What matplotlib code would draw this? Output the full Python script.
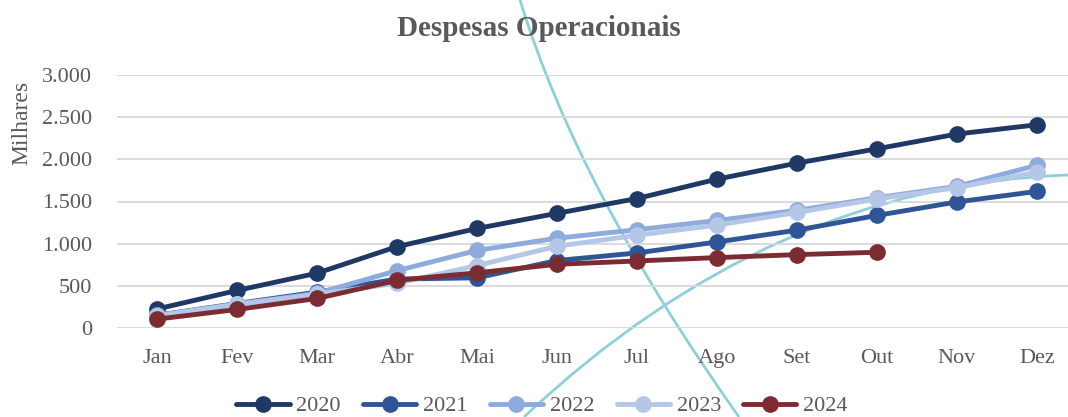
import matplotlib.pyplot as plt
from matplotlib.path import Path
from matplotlib.patches import PathPatch

# Dados (milhares)
meses = ['Jan', 'Fev', 'Mar', 'Abr', 'Mai', 'Jun', 'Jul', 'Ago', 'Set', 'Out', 'Nov', 'Dez']
d2020 = [225, 445, 650, 965, 1180, 1360, 1535, 1765, 1955, 2125, 2300, 2410]
d2021 = [150, 290, 425, 580, 595, 800, 890, 1020, 1160, 1335, 1495, 1620]
d2022 = [150, 285, 410, 680, 920, 1065, 1165, 1275, 1395, 1545, 1680, 1930]
d2023 = [145, 280, 400, 530, 740, 970, 1100, 1220, 1370, 1530, 1665, 1850]
d2024 = [105, 220, 350, 565, 655, 755, 795, 835, 870, 898]

series = {
    '2020': (d2020, '#203864'),
    '2021': (d2021, '#2f5597'),
    '2022': (d2022, '#8faadc'),
    '2023': (d2023, '#b4c7e7'),
    '2024': (d2024, '#7b2c32'),
}

plt.rcParams['font.family'] = ['Liberation Serif', 'DejaVu Serif']
cinza = '#595959'

fig = plt.figure(figsize=(10.68, 4.17), dpi=100)
W, H = 1068, 417

# curvas decorativas do fundo (bezier quadraticas, em pixels da imagem)
curvas = [
    [(520, 0), (578, 190), (739, 417)],
    [(524, 417), (770, 185), (1068, 175)],
]
for c in curvas:
    verts = [(px / W, 1 - py / H) for px, py in c]
    p = Path(verts, [Path.MOVETO, Path.CURVE3, Path.CURVE3])
    fig.add_artist(PathPatch(p, transform=fig.transFigure, fill=False,
                             edgecolor='#8fd0d6', lw=2, zorder=0))

ax = fig.add_axes([117 / W, 1 - 328 / H, 960 / W, (328 - 75) / H])
ax.patch.set_alpha(0)

x = list(range(len(meses)))
for nome, (vals, cor) in series.items():
    ax.plot(x[:len(vals)], vals, color=cor, lw=3.5, marker='o', ms=11,
            label=nome, solid_capstyle='round', zorder=3)

ax.set_xlim(-0.5, 11.5)
ax.set_ylim(0, 3000)
ax.set_yticks(range(0, 3001, 500))
ax.set_yticklabels([f'{v:,}'.replace(',', '.') for v in range(0, 3001, 500)])
ax.set_xticks(x)
ax.set_xticklabels(meses)
ax.grid(axis='y', color='#d9d9d9', lw=1.3)
ax.set_axisbelow(True)
for s in ax.spines.values():
    s.set_visible(False)
ax.tick_params(axis='both', length=0, colors=cinza, labelsize=16)
ax.tick_params(axis='y', pad=18)
ax.tick_params(axis='x', pad=15)

fig.text(22 / W, 1 - 123 / H, 'Milhares', rotation=90, color=cinza,
         fontsize=17, ha='center', va='center')
fig.text(539 / W, 1 - 29 / H, 'Despesas Operacionais', color=cinza, fontsize=21,
         fontweight='bold', ha='center', va='center')

leg = fig.legend(loc='center', bbox_to_anchor=(542 / W, 1 - 406 / H), ncol=5,
                 frameon=False, fontsize=16, handlelength=2.4, handletextpad=0.3,
                 columnspacing=1.0, labelcolor=cinza)

fig.savefig('out.png', dpi=100)
